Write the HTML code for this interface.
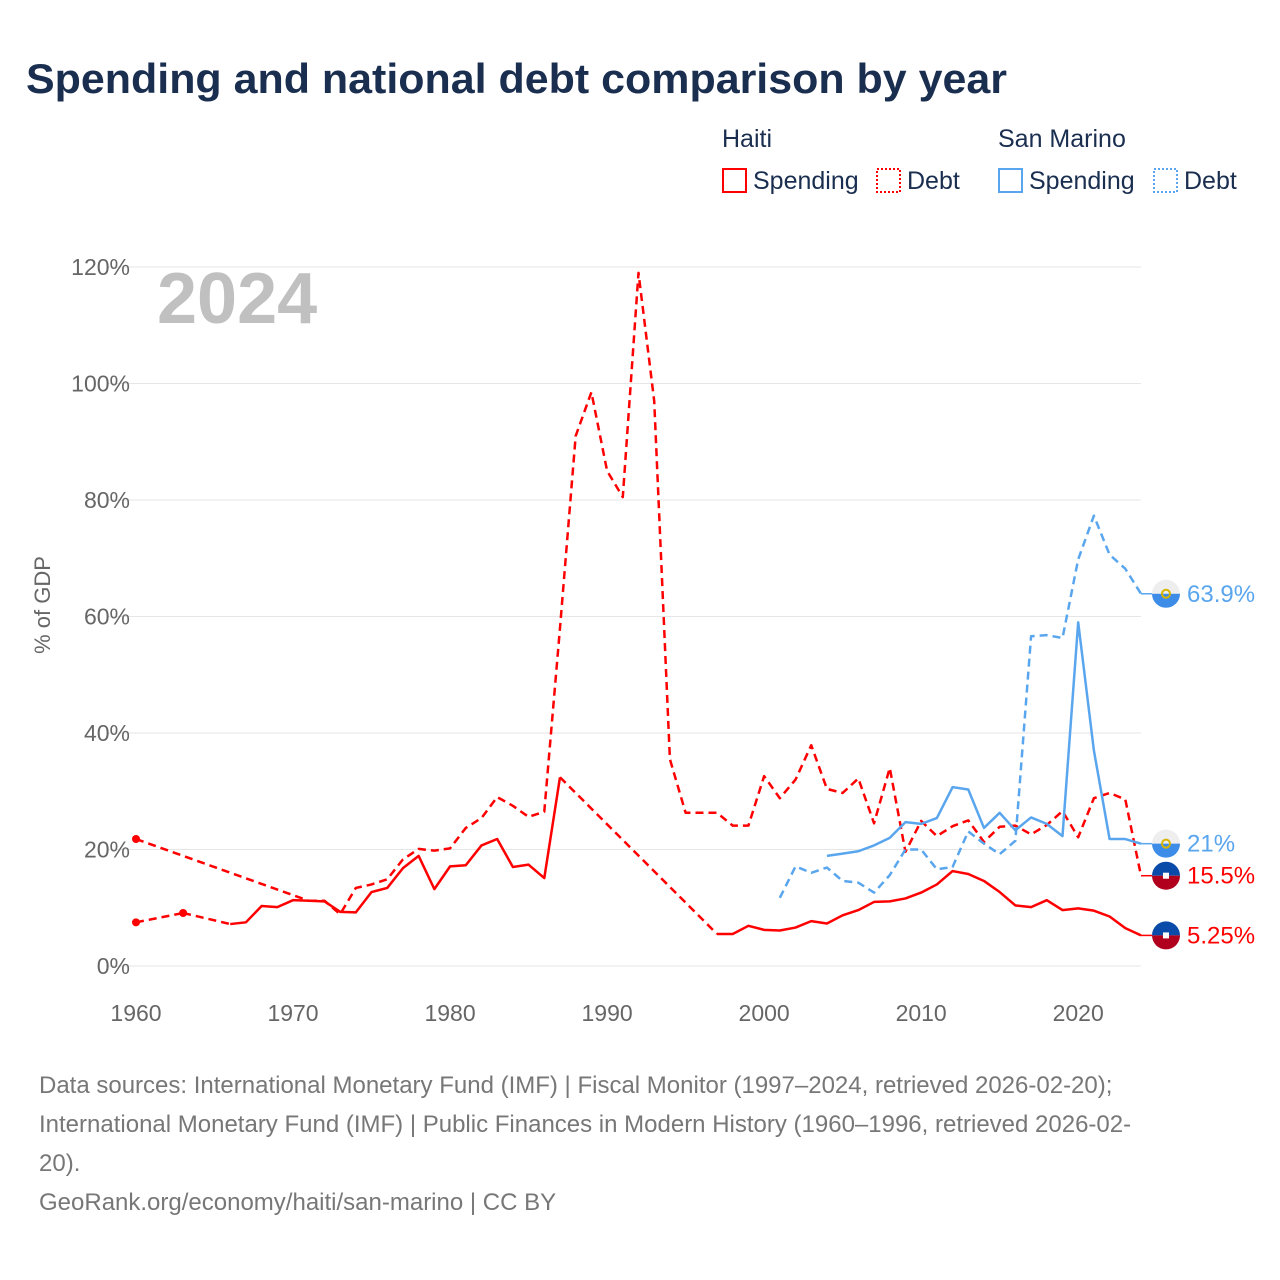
<!DOCTYPE html>
<html><head><meta charset="utf-8">
<style>
body{margin:0;background:#fff;font-family:"Liberation Sans",sans-serif;}
#wrap{position:relative;width:1280px;height:1280px;overflow:hidden;}
</style></head>
<body>
<div id="wrap">
<svg id="chart" width="1280" height="1280">
<text x="26" y="93" font-size="42" font-weight="bold" fill="#1a2e4f" textLength="981" lengthAdjust="spacingAndGlyphs">Spending and national debt comparison by year</text>
<g font-size="25" fill="#1a2e4f">
<text x="722" y="147">Haiti</text>
<text x="998" y="147">San Marino</text>
<g><rect x="723" y="169" width="23" height="23" fill="none" stroke="#f00" stroke-width="2"/><text x="753" y="189">Spending</text></g>
<g><rect x="877" y="169" width="23" height="23" fill="none" stroke="#f00" stroke-width="2" stroke-dasharray="2,2"/><text x="907" y="189">Debt</text></g>
<g><rect x="999" y="169" width="23" height="23" fill="none" stroke="#5aa6ee" stroke-width="2"/><text x="1029" y="189">Spending</text></g>
<g><rect x="1154" y="169" width="23" height="23" fill="none" stroke="#5aa6ee" stroke-width="2" stroke-dasharray="2,2"/><text x="1184" y="189">Debt</text></g>
</g>
<text x="157" y="323" font-size="72" font-weight="bold" fill="#c0c0c0">2024</text>
<text transform="translate(50,605) rotate(-90)" text-anchor="middle" font-size="22" fill="#666">% of GDP</text>
<g id="grid"></g><g id="series"></g><g id="ends"></g>
<g font-size="24" fill="#777">
<text x="39" y="1093">Data sources: International Monetary Fund (IMF) | Fiscal Monitor (1997–2024, retrieved 2026-02-20);</text>
<text x="39" y="1132">International Monetary Fund (IMF) | Public Finances in Modern History (1960–1996, retrieved 2026-02-</text>
<text x="39" y="1171">20).</text>
<text x="39" y="1210">GeoRank.org/economy/haiti/san-marino | CC BY</text>
</g>
</svg>
</div>
<script>
const years = []; for (let y = 1960; y <= 2024; y++) years.push(y);
const yTicks = [0, 20, 40, 60, 80, 100, 120];
const xTicks = [1960, 1970, 1980, 1990, 2000, 2010, 2020];
const N = null;
const haitiSpending = [7.5,N,N,9.1,N,N,7.2,7.5,10.3,10.1,11.3,11.2,11.1,9.3,9.2,12.7,13.4,16.8,18.9,13.2,17.1,17.3,20.7,21.8,17.0,17.4,15.1,32.4,N,N,N,N,N,N,N,N,N,5.5,5.5,6.9,6.2,6.1,6.6,7.7,7.3,8.7,9.6,11.0,11.1,11.6,12.6,14.0,16.3,15.8,14.6,12.7,10.4,10.1,11.3,9.6,9.9,9.5,8.5,6.5,5.25];
const haitiDebt = [21.8,N,N,N,N,N,N,N,N,N,N,11.2,11.2,8.9,13.4,14.0,14.9,18.3,20.1,19.8,20.2,23.7,25.4,29.0,27.5,25.6,26.5,58,91,98.5,85,80.5,119,97,35.5,26.3,26.3,26.3,24.1,24.1,32.6,28.8,32.0,37.9,30.4,29.7,32.2,24.5,34.0,19.6,24.9,22.3,24.0,25.0,21.3,23.9,24.1,22.6,24.2,26.6,22.1,28.8,29.7,28.6,15.5];
const smSpending = Array(44).fill(N).concat([18.9,19.3,19.7,20.7,22.0,24.7,24.4,25.4,30.7,30.3,23.7,26.3,23.3,25.5,24.4,22.3,59.0,37.0,21.8,21.8,21.0]);
const smDebt = Array(41).fill(N).concat([11.7,17.1,16.0,16.9,14.6,14.3,12.6,15.6,20.0,20.0,16.6,17.0,23.1,21.0,19.2,21.5,56.6,56.8,56.3,69.8,77.3,70.6,68.2,63.9]);
const endLabels = ["63.9%","21%","15.5%","5.25%"];

const NS = "http://www.w3.org/2000/svg";
const X0 = 136, X1 = 1141, Y0 = 966, Y120 = 267;
const xS = y => X0 + (y - 1960) * (X1 - X0) / 64;
const yS = v => Y0 - v * (Y0 - Y120) / 120;
function mk(tag, attrs, parent) { const e = document.createElementNS(NS, tag); for (const k in attrs) e.setAttribute(k, attrs[k]); parent.appendChild(e); return e; }
const grid = document.getElementById('grid');
yTicks.forEach(t => {
  const l = mk('line', {x1: 107, x2: 1141, y1: yS(t), y2: yS(t), stroke: '#e6e6e6', 'stroke-width': 1}, grid);
  
  
  const tx = mk('text', {x: 130, y: yS(t) + 8, 'text-anchor': 'end', 'font-size': 23, fill: '#666'}, grid);
  tx.textContent = t + '%';
  
  
});
xTicks.forEach(t => {
  const tx = mk('text', {x: xS(t), y: 1021, 'text-anchor': 'middle', 'font-size': 23, fill: '#666'}, grid);
  tx.textContent = t;
  
  
});
const sg = document.getElementById('series');
function draw(vals, color, dashed, name) {
  const g = mk('g', {}, sg);
  
  
  const pts = [];
  vals.forEach((v, i) => { if (v !== null) pts.push([xS(years[i]), yS(v), i]); });
  let seg = [];
  const segs = [];
  for (let k = 0; k < pts.length; k++) {
    if (k > 0 && pts[k][2] !== pts[k-1][2] + 1) {
      segs.push(seg); seg = [];
      mk('line', {x1: pts[k-1][0], y1: pts[k-1][1], x2: pts[k][0], y2: pts[k][1], stroke: color, 'stroke-width': 2.5, 'stroke-dasharray': '8,5'}, g);
    }
    seg.push(pts[k]);
  }
  segs.push(seg);
  segs.forEach(s => {
    if (s.length === 1) mk('circle', {cx: s[0][0], cy: s[0][1], r: 4, fill: color}, g);
    else {
      const a = {d: 'M' + s.map(p => p[0] + ',' + p[1]).join('L'), fill: 'none', stroke: color, 'stroke-width': 2.5, 'stroke-linejoin': 'round'};
      if (dashed) a['stroke-dasharray'] = '8,5';
      mk('path', a, g);
    }
  });
}
draw(haitiSpending, '#ff0000', false, 'haiti-spending-line');
draw(haitiDebt, '#ff0000', true, 'haiti-debt-line');
draw(smSpending, '#5aa6ee', false, 'san-marino-spending-line');
draw(smDebt, '#5aa6ee', true, 'san-marino-debt-line');
const ends = document.getElementById('ends');
const endSeries = [[smDebt, '#5aa6ee', 'sm'], [smSpending, '#5aa6ee', 'sm'], [haitiDebt, '#ff0000', 'ht'], [haitiSpending, '#ff0000', 'ht']];
endSeries.forEach((s, i) => {
  const v = s[0][s[0].length - 1];
  const cy = yS(v), cx = 1166;
  const g = mk('g', {}, ends);
  
  
  mk('line', {x1: 1141, x2: 1152, y1: cy, y2: cy, stroke: s[1], 'stroke-width': 1.5}, g);
  if (s[2] === 'sm') {
    mk('path', {d: `M${cx-14},${cy} A14,14 0 0 1 ${cx+14},${cy} Z`, fill: '#eee'}, g);
    mk('path', {d: `M${cx-14},${cy} A14,14 0 0 0 ${cx+14},${cy} Z`, fill: '#3d8de8'}, g);
    mk('circle', {cx: cx, cy: cy, r: 4, fill: 'none', stroke: '#d8b400', 'stroke-width': 2}, g);
  } else {
    mk('path', {d: `M${cx-14},${cy} A14,14 0 0 1 ${cx+14},${cy} Z`, fill: '#0a4aa8'}, g);
    mk('path', {d: `M${cx-14},${cy} A14,14 0 0 0 ${cx+14},${cy} Z`, fill: '#b0001e'}, g);
    mk('rect', {x: cx-3, y: cy-3, width: 6, height: 6, fill: '#fff'}, g);
  }
  const t = mk('text', {x: 1187, y: cy + 8, 'font-size': 24, fill: s[1]}, g);
  t.textContent = endLabels[i];
});
</script>
</body></html>
